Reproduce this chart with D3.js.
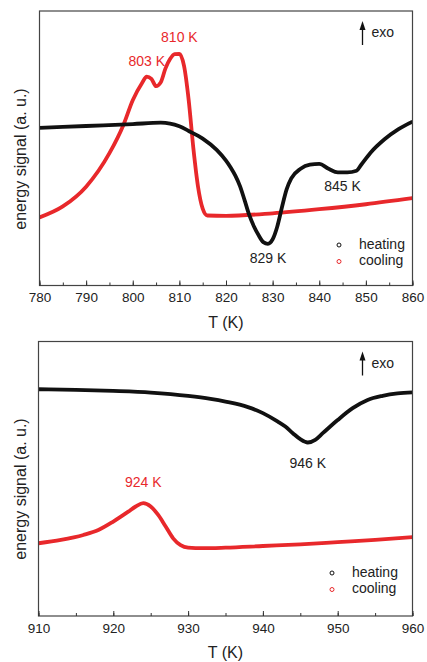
<!DOCTYPE html>
<html>
<head>
<meta charset="utf-8">
<script src="https://cdn.jsdelivr.net/npm/d3@7"></script>
<style>
  body { margin: 0; background: #fff; }
  svg { display: block; font-family: "Liberation Sans", Arial, sans-serif; }
</style>
</head>
<body>
<svg id="chart" width="427" height="662"></svg>
<script>
// ---- data (arbitrary signal units 0..100) ----
var topHeatT = [780, 790, 800, 806, 808, 810, 812, 815, 818, 820, 821, 822, 823, 824, 825, 826, 827, 828, 829, 830, 831, 832, 833, 834, 836, 838, 840, 842, 844, 846, 848, 849, 851, 854, 857, 860];
var topHeatS = [57.4, 58.1, 58.8, 59.3, 59.0, 58.0, 56.3, 53.5, 49.4, 45.5, 43.0, 40.0, 36.2, 31.0, 25.6, 21.5, 18.3, 15.8, 15.2, 16.8, 21.5, 28.5, 35.0, 39.0, 42.5, 44.0, 44.3, 42.5, 41.2, 41.2, 41.8, 44.0, 48.4, 53.3, 57.0, 59.7];
var topCoolT = [780, 785, 790, 795, 798, 800, 802, 803, 804, 805, 806, 807, 808, 809, 810, 811, 812, 813, 814, 815, 816, 820, 830, 840, 850, 860];
var topCoolS = [24.8, 28.8, 36.0, 48.2, 58.5, 67.5, 73.8, 76.1, 75.3, 72.6, 74.0, 79.0, 82.5, 84.3, 84.4, 80.0, 67.5, 50.0, 36.0, 28.0, 25.5, 25.4, 26.3, 27.8, 29.6, 31.8];

var botHeatT = [910, 915, 920, 925, 930, 933, 935, 938, 940, 942, 943, 944, 945, 946, 947, 948, 950, 952, 954, 956, 958, 960];
var botHeatS = [82.6, 82.4, 82.0, 81.4, 80.2, 79.1, 78.1, 76.1, 73.9, 70.8, 69.0, 66.6, 64.4, 63.2, 64.2, 66.6, 71.4, 75.7, 78.7, 80.2, 81.1, 81.5];
var botCoolT = [910, 913, 916, 918, 920, 922, 923, 924, 925, 926, 927, 928, 929, 930, 932, 935, 940, 945, 950, 955, 960];
var botCoolS = [26.5, 27.7, 29.5, 31.3, 34.4, 38.0, 39.9, 41.1, 39.9, 36.8, 32.6, 28.3, 25.8, 24.9, 24.7, 24.9, 25.5, 26.1, 26.9, 27.7, 28.7];

var topTicks = [780, 790, 800, 810, 820, 830, 840, 850, 860];
var botTicks = [910, 920, 930, 940, 950, 960];

var seriesNames = ["heating", "cooling"];
var seriesColors = {heating: "#111111", cooling: "#e8282b"};

var topLabels = [
  {t: 810, s: 84.4, text: "810 K", dy: -16, series: "cooling"},
  {t: 803, s: 76.1, text: "803 K", dy: -14, series: "cooling"},
  {t: 829, s: 15.2, text: "829 K", dy: 16, series: "heating"},
  {t: 845, s: 41.2, text: "845 K", dy: 15, series: "heating"}
];
var botLabels = [
  {t: 946, s: 63.2, text: "946 K", dy: 22, series: "heating"},
  {t: 924, s: 41.1, text: "924 K", dy: -20, series: "cooling"}
];

function zip(ts, ss) { return ts.map(function(t, i) { return {t: t, s: ss[i]}; }); }

var svg = d3.select("#chart");

function panel(opt) {
  var g = svg.append("g");
  var x = d3.scaleLinear().domain(opt.domain).range([opt.left, opt.right]);
  var y = d3.scaleLinear().domain([0, 100]).range([opt.bottom, opt.top]);

  var clipId = "clip" + opt.id;
  svg.append("clipPath").attr("id", clipId).append("rect")
    .attr("x", opt.left).attr("y", opt.top)
    .attr("width", opt.right - opt.left).attr("height", opt.bottom - opt.top);

  var line = d3.line().x(function(d) { return x(d.t); }).y(function(d) { return y(d.s); })
    .curve(d3.curveMonotoneX);

  var curves = g.append("g").attr("clip-path", "url(#" + clipId + ")");
  opt.series.forEach(function(sr) {
    curves.append("path").datum(sr.data)
      .attr("d", line)
      .attr("fill", "none")
      .attr("stroke", seriesColors[sr.name])
      .attr("stroke-width", 3.8)
      .attr("stroke-linejoin", "round");
  });

  // frame
  g.append("rect")
    .attr("x", opt.left).attr("y", opt.top)
    .attr("width", opt.right - opt.left).attr("height", opt.bottom - opt.top)
    .attr("fill", "none").attr("stroke", "#444").attr("stroke-width", 1.2);

  // x axis, ticks inward (minor every 5, major every 10)
  var minor = d3.range(opt.domain[0], opt.domain[1] + 0.1, 5);
  g.append("g").attr("transform", "translate(0," + opt.bottom + ")")
    .call(d3.axisBottom(x).tickValues(minor).tickSize(-3).tickFormat(""))
    .call(function(a) { a.select(".domain").remove(); a.selectAll("line").attr("stroke", "#333"); });
  var ax = g.append("g").attr("transform", "translate(0," + opt.bottom + ")")
    .call(d3.axisBottom(x).tickValues(opt.ticks).tickSize(-5).tickPadding(7));
  ax.select(".domain").remove();
  ax.selectAll("line").attr("stroke", "#333");
  ax.selectAll("text").attr("font-size", 13.5).attr("fill", "#222")
    .attr("font-family", "Liberation Sans, Arial, sans-serif");

  g.append("text").attr("x", (opt.left + opt.right) / 2).attr("y", opt.bottom + 42)
    .attr("text-anchor", "middle").attr("font-size", 16).attr("fill", "#222").text("T (K)");

  g.append("text")
    .attr("transform", "translate(26," + opt.labelCy + ") rotate(-90)")
    .attr("text-anchor", "middle").attr("font-size", 16).attr("fill", "#222")
    .text("energy signal (a. u.)");

  // peak labels
  opt.labels.forEach(function(l) {
    g.append("text").attr("x", x(l.t)).attr("y", y(l.s) + l.dy)
      .attr("text-anchor", "middle").attr("dominant-baseline", "middle")
      .attr("font-size", 14).attr("fill", l.series === "cooling" ? "#e8282b" : "#222")
      .text(l.text);
  });

  // exo arrow
  var ex = opt.right - 50;
  g.append("line").attr("x1", ex).attr("x2", ex)
    .attr("y1", opt.top + 34).attr("y2", opt.top + 14)
    .attr("stroke", "#111").attr("stroke-width", 1.3);
  g.append("path")
    .attr("d", "M" + (ex - 3) + "," + (opt.top + 19) + "L" + ex + "," + (opt.top + 10) + "L" + (ex + 3) + "," + (opt.top + 19) + "Z")
    .attr("fill", "#111");
  g.append("text").attr("x", ex + 9).attr("y", opt.top + 26)
    .attr("font-size", 14).attr("fill", "#222").text("exo");

  // legend
  seriesNames.forEach(function(n, i) {
    var ly = opt.legendY + i * 16.5;
    g.append("circle").attr("cx", opt.legendX).attr("cy", ly).attr("r", 2)
      .attr("fill", "none").attr("stroke", seriesColors[n]).attr("stroke-width", 1);
    g.append("text").attr("x", opt.legendX + 20).attr("y", ly)
      .attr("dominant-baseline", "middle").attr("font-size", 14).attr("fill", "#222").text(n);
  });
}

panel({
  id: 1, domain: [780, 860], ticks: topTicks,
  left: 39.5, right: 412.5, top: 11, bottom: 285.5, labelCy: 159,
  series: [{name: "cooling", data: zip(topCoolT, topCoolS)}, {name: "heating", data: zip(topHeatT, topHeatS)}],
  labels: topLabels, legendX: 339, legendY: 245
});

panel({
  id: 2, domain: [910, 960], ticks: botTicks,
  left: 38.5, right: 412.5, top: 341.5, bottom: 616, labelCy: 489,
  series: [{name: "heating", data: zip(botHeatT, botHeatS)}, {name: "cooling", data: zip(botCoolT, botCoolS)}],
  labels: botLabels, legendX: 332, legendY: 573
});
</script>
</body>
</html>
